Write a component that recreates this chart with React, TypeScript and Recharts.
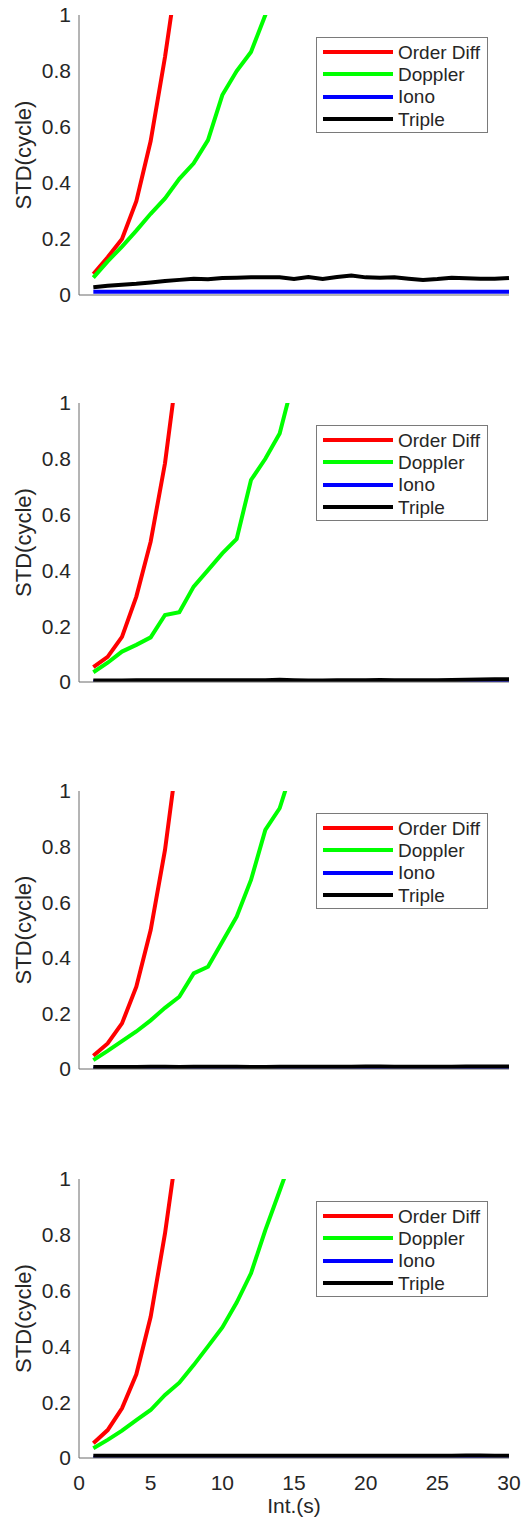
import { LineChart, Line, XAxis, YAxis, Legend, Label } from 'recharts';

const intervals = [1, 2, 3, 4, 5, 6, 7, 8, 9, 10, 11, 12, 13, 14, 15, 16, 17, 18, 19, 20, 21, 22, 23, 24, 25, 26, 27, 28, 29, 30];
const yTicks = [0, 0.2, 0.4, 0.6, 0.8, 1];
const xTicks = [0, 5, 10, 15, 20, 25, 30];

const seriesKeys = ['od', 'dp', 'io', 'tr'];
const seriesNames = ['Order Diff', 'Doppler', 'Iono', 'Triple'];
const seriesColors = ['#ff0000', '#00ff00', '#0000ff', '#000000'];

// panel 1
const orderDiff1 = [0.075, 0.135, 0.2, 0.335, 0.55, 0.85, 1.2];
const doppler1 = [0.062, 0.12, 0.173, 0.23, 0.29, 0.345, 0.415, 0.47, 0.553, 0.714, 0.8, 0.868, 1.0, 1.15];
const iono1 = [0.012, 0.012, 0.012, 0.012, 0.012, 0.012, 0.012, 0.012, 0.012, 0.012, 0.012, 0.012, 0.012, 0.012, 0.012, 0.012, 0.012, 0.012, 0.012, 0.012, 0.012, 0.012, 0.012, 0.012, 0.012, 0.012, 0.012, 0.012, 0.012, 0.012];
const triple1 = [0.028, 0.033, 0.037, 0.04, 0.045, 0.05, 0.054, 0.058, 0.056, 0.061, 0.062, 0.063, 0.063, 0.063, 0.057, 0.064, 0.057, 0.064, 0.07, 0.063, 0.062, 0.063, 0.058, 0.054, 0.057, 0.062, 0.06, 0.058, 0.058, 0.061];

// panel 2
const orderDiff2 = [0.053, 0.09, 0.162, 0.306, 0.503, 0.784, 1.18];
const doppler2 = [0.035, 0.069, 0.109, 0.133, 0.16, 0.24, 0.25, 0.342, 0.401, 0.461, 0.513, 0.724, 0.8, 0.891, 1.09];
const iono2 = [0.001, 0.001, 0.001, 0.001, 0.001, 0.001, 0.001, 0.001, 0.001, 0.001, 0.001, 0.001, 0.001, 0.001, 0.001, 0.001, 0.001, 0.001, 0.001, 0.001, 0.001, 0.001, 0.001, 0.001, 0.001, 0.001, 0.001, 0.001, 0.001, 0.001];
const triple2 = [0.005, 0.005, 0.005, 0.006, 0.006, 0.006, 0.006, 0.006, 0.006, 0.006, 0.006, 0.006, 0.006, 0.008, 0.006, 0.005, 0.005, 0.006, 0.006, 0.006, 0.007, 0.006, 0.006, 0.006, 0.006, 0.007, 0.008, 0.009, 0.01, 0.01];

// panel 3
const orderDiff3 = [0.048, 0.092, 0.164, 0.296, 0.5, 0.788, 1.18];
const doppler3 = [0.032, 0.065, 0.1, 0.135, 0.175, 0.22, 0.26, 0.344, 0.368, 0.458, 0.548, 0.68, 0.86, 0.938, 1.1];
const iono3 = [0.001, 0.001, 0.001, 0.001, 0.001, 0.001, 0.001, 0.001, 0.001, 0.001, 0.001, 0.001, 0.001, 0.001, 0.001, 0.001, 0.001, 0.001, 0.001, 0.001, 0.001, 0.001, 0.001, 0.001, 0.001, 0.001, 0.001, 0.001, 0.001, 0.001];
const triple3 = [0.007, 0.007, 0.007, 0.007, 0.008, 0.008, 0.007, 0.008, 0.008, 0.008, 0.008, 0.007, 0.007, 0.008, 0.008, 0.008, 0.008, 0.008, 0.008, 0.009, 0.009, 0.008, 0.008, 0.008, 0.008, 0.008, 0.009, 0.009, 0.009, 0.009];

// panel 4
const orderDiff4 = [0.053, 0.1, 0.178, 0.3, 0.506, 0.805, 1.17];
const doppler4 = [0.035, 0.065, 0.098, 0.136, 0.172, 0.226, 0.27, 0.333, 0.4, 0.468, 0.557, 0.662, 0.817, 0.958, 1.1];
const iono4 = [0.001, 0.001, 0.001, 0.001, 0.001, 0.001, 0.001, 0.001, 0.001, 0.001, 0.001, 0.001, 0.001, 0.001, 0.001, 0.001, 0.001, 0.001, 0.001, 0.001, 0.001, 0.001, 0.001, 0.001, 0.001, 0.001, 0.001, 0.001, 0.001, 0.001];
const triple4 = [0.008, 0.008, 0.008, 0.008, 0.008, 0.008, 0.008, 0.008, 0.008, 0.008, 0.008, 0.008, 0.008, 0.008, 0.008, 0.008, 0.008, 0.008, 0.008, 0.008, 0.008, 0.008, 0.008, 0.008, 0.008, 0.008, 0.009, 0.009, 0.008, 0.008];

const FONT = '"Liberation Sans", Arial, sans-serif';
const TEXT = '#262626';
const AXIS = '#6b6b6b';
const TOP = 15;

function buildRows(od: number[], dp: number[], io: number[], tr: number[]) {
  return intervals.map((x, i) => ({ x, od: od[i], dp: dp[i], io: io[i], tr: tr[i] }));
}

const panels = [
  { plotTop: 15, plotH: 280, rows: buildRows(orderDiff1, doppler1, iono1, triple1) },
  { plotTop: 403, plotH: 279, rows: buildRows(orderDiff2, doppler2, iono2, triple2) },
  { plotTop: 791, plotH: 278, rows: buildRows(orderDiff3, doppler3, iono3, triple3) },
  { plotTop: 1179, plotH: 279, rows: buildRows(orderDiff4, doppler4, iono4, triple4) },
];

const renderLegend = () => (
  <div style={{ width: 172, height: 96, boxSizing: 'border-box', border: '1px solid #7a7a7a', background: '#fff', paddingTop: 3 }}>
    {seriesNames.map((name, i) => (
      <div key={name} style={{ display: 'flex', alignItems: 'center', height: 22.3 }}>
        <span style={{ display: 'inline-block', marginLeft: 6, width: 70, height: 4, background: seriesColors[i] }} />
        <span style={{ marginLeft: 5, fontSize: 19, lineHeight: 1, color: TEXT, fontFamily: FONT }}>{name}</span>
      </div>
    ))}
  </div>
);

function Panel({ plotTop, plotH, rows, last }: { plotTop: number; plotH: number; rows: any[]; last: boolean }) {
  const xAxisH = last ? 60 : 20;
  const height = TOP + plotH + xAxisH;
  const midY = TOP + plotH / 2;

  return (
    <div style={{ position: 'absolute', left: 0, top: plotTop - TOP }}>
      <LineChart width={523} height={height} data={rows} margin={{ top: TOP, right: 14, bottom: 0, left: 0 }}>
        <XAxis
          dataKey="x" type="number" domain={[0, 30]} ticks={xTicks} interval={0}
          tick={last ? { fill: TEXT, fontSize: 21, fontFamily: FONT } : false}
          tickLine={false} tickSize={0} tickMargin={17} height={xAxisH}
          axisLine={{ stroke: AXIS, strokeWidth: 1 }}
        >
          {last && (
            <Label
              content={(p: any) => {
                const vb = p.viewBox || { x: 79, y: TOP + plotH, width: 430 };
                return (
                  <text x={vb.x + vb.width / 2} y={vb.y + 55} textAnchor="middle" fontSize={21} fill={TEXT} fontFamily={FONT}>
                    Int.(s)
                  </text>
                );
              }}
            />
          )}
        </XAxis>
        <YAxis
          type="number" domain={[0, 1]} ticks={yTicks} interval={0} allowDataOverflow width={79}
          tick={{ fill: TEXT, fontSize: 21, fontFamily: FONT }}
          tickLine={false} tickSize={0} tickMargin={8}
          axisLine={{ stroke: AXIS, strokeWidth: 1 }}
        >
          <Label
            content={() => (
              <text x={23} y={midY} transform={`rotate(-90, 23, ${midY})`} textAnchor="middle" dominantBaseline="central" fontSize={22} fill={TEXT} fontFamily={FONT}>
                STD(cycle)
              </text>
            )}
          />
        </YAxis>
        {seriesKeys.map((k, i) => (
          <Line key={k} dataKey={k} name={seriesNames[i]} type="linear" stroke={seriesColors[i]} strokeWidth={4} dot={false} activeDot={false} isAnimationActive={false} />
        ))}
        <Legend
          layout="vertical" align="center" verticalAlign="middle"
          content={renderLegend}
          wrapperStyle={{ position: 'absolute', left: 316, top: TOP + 22, width: 172, height: 96 }}
        />
      </LineChart>
    </div>
  );
}

export default function App() {
  return (
    <div style={{ position: 'absolute', left: 0, top: 0, width: 523, height: 1521, background: '#fff' }}>
      {panels.map((p, i) => (
        <Panel key={i} plotTop={p.plotTop} plotH={p.plotH} rows={p.rows} last={i === panels.length - 1} />
      ))}
    </div>
  );
}
